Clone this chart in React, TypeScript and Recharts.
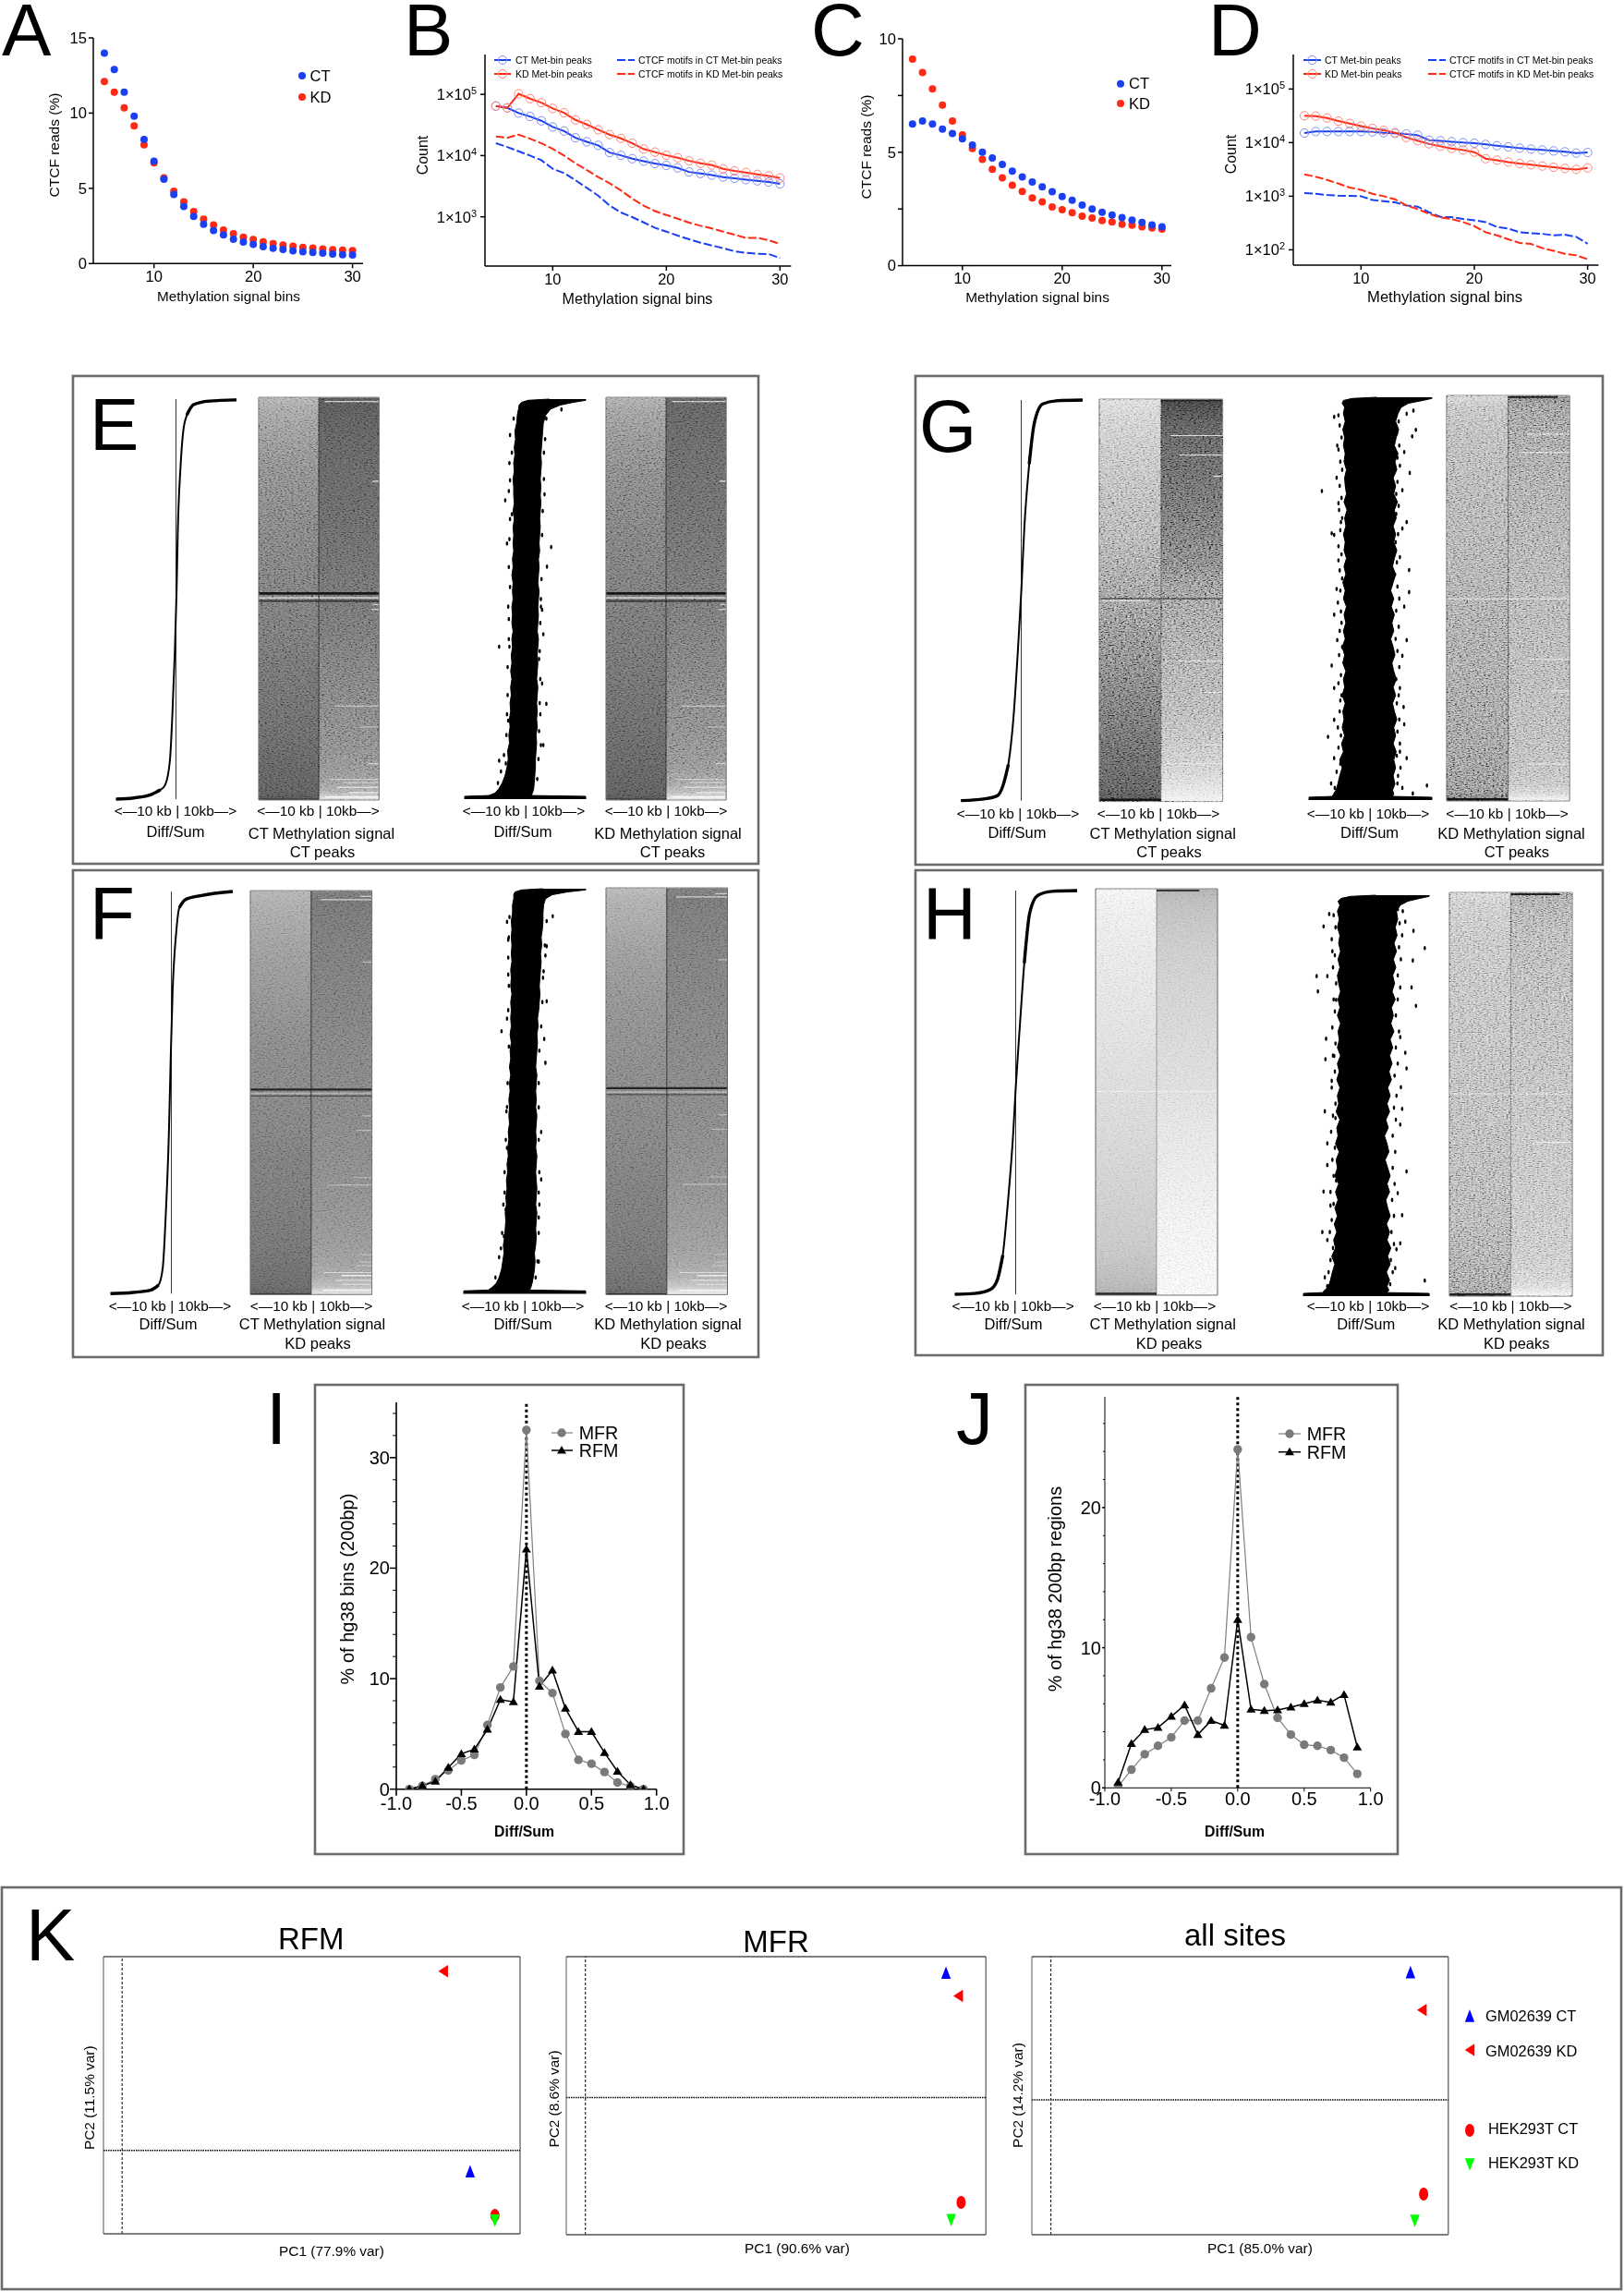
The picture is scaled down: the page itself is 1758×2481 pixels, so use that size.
import * as React from 'react'
import {
  AreaChart,
  Area,
  LineChart,
  Line,
  ScatterChart,
  Scatter,
  XAxis,
  YAxis,
  ReferenceLine,
  ReferenceArea,
} from 'recharts'

// ---------- data ----------
const bins = [5,6,7,8,9,10,11,12,13,14,15,16,17,18,19,20,21,22,23,24,25,26,27,28,29,30]

const aCT = [13.98,12.9,11.4,9.8,8.25,6.8,5.6,4.6,3.8,3.13,2.62,2.2,1.9,1.62,1.43,1.27,1.13,1.02,0.94,0.84,0.78,0.74,0.7,0.63,0.59,0.57]
const aKD = [12.1,11.4,10.35,9.15,7.9,6.7,5.7,4.8,4.1,3.46,2.95,2.56,2.23,1.98,1.76,1.6,1.45,1.32,1.23,1.15,1.07,1.03,0.97,0.93,0.89,0.86]
const cCT = [6.24,6.38,6.24,6.02,5.83,5.59,5.32,5.0,4.75,4.46,4.17,3.91,3.69,3.47,3.26,3.05,2.88,2.67,2.5,2.36,2.23,2.12,2.01,1.91,1.8,1.71]
const cKD = [9.1,8.51,7.79,7.08,6.38,5.77,5.16,4.69,4.25,3.87,3.55,3.27,2.99,2.81,2.59,2.47,2.33,2.18,2.1,1.99,1.93,1.83,1.79,1.71,1.66,1.61]

const bCTPeaks = [64400,60100,49400,43500,37000,29300,25200,19500,16800,14700,11200,10100,8900,8100,7400,6900,6300,5400,5100,4800,4450,4250,4050,3870,3700,3450]
const bKDPeaks = [64400,60100,102000,85000,73000,58700,50000,38300,32200,26400,22000,19100,15900,12800,11400,10100,9200,8200,7480,6980,6080,5610,5300,4930,4660,4300]
const bCTMotifs = [15900,13800,11750,10000,8410,6080,5170,3960,2970,2220,1530,1175,990,810,660,574,493,430,378,341,307,274,258,250,247,212]
const bKDMotifs = [20500,19500,22000,18900,15900,12900,10000,7480,5800,4450,3530,2700,1980,1520,1240,1070,933,803,715,645,574,512,450,455,415,361]

const dCTPeaks = [15070,16100,16100,16100,16100,16100,15900,15280,14880,14490,13740,11120,10820,10400,10000,9750,9240,8770,8320,7880,7570,7280,7000,6730,6380,6550]
const dKDPeaks = [31600,31200,28800,25200,22700,20400,18400,17000,15280,12500,10820,9490,8530,7780,7280,6640,5020,4700,4340,4060,3860,3660,3470,3290,3160,3380]
const dCTMotifs = [1140,1110,1055,1026,1014,1000,853,809,767,673,638,502,412,406,376,356,329,266,249,213,204,199,186,191,174,130]
const dKDMotifs = [2560,2300,2020,1720,1450,1320,1110,1000,877,673,574,470,401,376,329,277,213,186,157,134,129,108,96,84,79,67]

const diffBins = [-0.9,-0.8,-0.7,-0.6,-0.5,-0.4,-0.3,-0.2,-0.1,0,0.1,0.2,0.3,0.4,0.5,0.6,0.7,0.8,0.9]
const iMFR = [0,0.3,0.9,1.7,2.6,3.1,5.8,9.2,11.1,32.5,9.8,8.7,5.0,2.65,2.3,1.55,0.6,0.25,0]
const iRFM = [0,0.3,0.7,1.95,3.2,3.6,5.4,8.1,7.9,21.7,9.3,10.75,7.3,5.2,5.2,3.3,1.6,0.4,0]
const jMFR = [0.1,1.3,2.4,3.0,3.6,4.8,4.8,7.1,9.3,24.15,10.75,7.4,5.0,3.8,3.08,3.0,2.7,2.15,1.0]
const jRFM = [0.4,3.15,4.15,4.3,5.1,5.9,3.8,4.8,4.45,12,5.6,5.5,5.55,5.75,6.0,6.25,6.1,6.65,2.9]

// sorted diff/sum curves: x = diff/sum, r = rank in %
const eCurveX = [-0.99,-0.7,-0.4,-0.26,-0.18,-0.1,-0.06,-0.02,0.01,0.03,0.075,0.12,0.18,0.29,0.55,1]
const eCurveR = [0,0.3,1.2,2.3,3.5,9.7,21,36.5,52,67,83,92,96,98.6,99.5,99.8]
const fCurveX = [-0.99,-0.62,-0.33,-0.21,-0.14,-0.09,-0.04,-0.01,0.02,0.08,0.13,0.23,0.49,1]
const fCurveR = [0,0.3,0.9,2.1,6.4,20,40,59,75,90,96,98,99,100]
const gCurveX = [-0.98,-0.61,-0.39,-0.3,-0.21,-0.13,-0.06,0,0.05,0.13,0.21,0.35,0.57,1]
const gCurveR = [0,0.4,1.2,3.6,9,20,36,52,68,84,94,99,99.8,100]
const hCurveX = [-0.99,-0.67,-0.41,-0.3,-0.21,-0.12,-0.04,0,0.07,0.14,0.23,0.36,0.59,1]
const hCurveR = [0,0.2,1.2,3.5,9.7,24,40,51,67,82,94.6,98.8,99.8,100]

const ribbonRanks = [0,0.7,0.9,1.5,2.5,4,6,8,10,12,14,16,18,20,22,24,26,28,30,32,34,36,38,40,42,44,46,48,50,52,54,56,58,60,62,64,66,68,70,72,74,76,78,80,82,84,86,88,90,92,94,96,97.5,98.5,99.2,99.7,100]
const eLow = [-1,-1,-.6,-.5,-.44,-.38,-.33,-.3,-.28,-.29,-.26,-.27,-.25,-.26,-.24,-.25,-.23,-.24,-.22,-.24,-.22,-.23,-.21,-.22,-.2,-.22,-.21,-.22,-.2,-.21,-.2,-.22,-.2,-.21,-.19,-.2,-.19,-.2,-.18,-.2,-.18,-.19,-.19,-.2,-.18,-.19,-.17,-.18,-.16,-.17,-.14,-.13,-.11,-.1,-.06,.05,.4]
const eHigh = [1,1,.1,.12,.14,.15,.16,.17,.17,.18,.19,.18,.2,.19,.2,.19,.2,.21,.19,.2,.21,.2,.21,.22,.2,.21,.22,.21,.22,.23,.21,.22,.23,.22,.24,.23,.24,.25,.24,.25,.26,.25,.26,.25,.26,.27,.26,.27,.28,.29,.3,.34,.42,.58,.8,1,1]
const fLow = [-1,-1,-.6,-.54,-.47,-.42,-.38,-.36,-.34,-.35,-.33,-.32,-.31,-.32,-.3,-.31,-.29,-.3,-.28,-.29,-.27,-.28,-.26,-.27,-.25,-.26,-.25,-.26,-.24,-.25,-.23,-.25,-.23,-.24,-.22,-.24,-.22,-.23,-.22,-.23,-.21,-.23,-.22,-.23,-.21,-.22,-.21,-.22,-.21,-.22,-.2,-.2,-.18,-.18,-.16,-.05,.3]
const fHigh = [1,1,.08,.1,.12,.14,.16,.17,.16,.18,.19,.18,.19,.2,.18,.19,.2,.19,.18,.19,.2,.18,.19,.18,.19,.2,.18,.19,.18,.19,.2,.18,.19,.2,.21,.2,.22,.21,.23,.24,.25,.24,.25,.26,.27,.26,.28,.27,.29,.3,.3,.31,.34,.45,.7,1,1]
const gLow = [-1,-1,-.62,-.6,-.56,-.53,-.5,-.46,-.5,-.44,-.47,-.42,-.46,-.43,-.45,-.41,-.46,-.42,-.44,-.4,-.45,-.42,-.46,-.41,-.44,-.4,-.43,-.39,-.44,-.41,-.45,-.4,-.43,-.39,-.43,-.41,-.44,-.4,-.42,-.38,-.43,-.39,-.41,-.42,-.39,-.43,-.41,-.44,-.42,-.45,-.41,-.44,-.42,-.46,-.44,-.3,.1]
const gHigh = [1,1,.36,.38,.36,.4,.37,.41,.38,.42,.37,.41,.38,.43,.39,.36,.41,.37,.42,.38,.35,.4,.37,.33,.38,.35,.39,.34,.38,.33,.37,.41,.36,.39,.43,.38,.41,.37,.42,.39,.44,.38,.41,.37,.43,.4,.45,.39,.42,.46,.41,.45,.5,.62,.85,1,1]
const hLow = [-1,-1,-.7,-.66,-.6,-.57,-.54,-.5,-.55,-.49,-.52,-.47,-.51,-.46,-.5,-.45,-.49,-.44,-.5,-.46,-.48,-.43,-.49,-.45,-.47,-.42,-.48,-.44,-.46,-.42,-.47,-.43,-.46,-.41,-.46,-.43,-.45,-.41,-.46,-.42,-.45,-.41,-.44,-.46,-.42,-.45,-.41,-.44,-.42,-.46,-.43,-.46,-.42,-.45,-.4,-.25,.15]
const hHigh = [1,1,.33,.36,.33,.37,.32,.38,.34,.39,.33,.37,.32,.38,.34,.31,.37,.33,.38,.34,.3,.36,.33,.29,.35,.31,.37,.33,.38,.34,.4,.36,.41,.37,.42,.38,.44,.39,.43,.4,.46,.41,.45,.42,.47,.43,.48,.44,.49,.46,.5,.48,.54,.66,.85,1,1]

// stray points outside the ribbons: [diff/sum, rank]
const eStray = [[-.33,74.7],[-.3,63.9],[-.43,38.1],[.43,63],[.36,58.1],[.35,23.8],[.26,13.5],[-.43,9.6],[-.4,6.9],[-.22,86.6],[-.25,79.7],[.32,76.2],[.31,86.6],[.3,41.2],[.26,48.1],[-.28,19.6],[-.3,21.2],[.25,21.2],[-.19,95.1],[.6,97.4],[.35,95.1],[-.28,48.1],[.28,47.3],[-.22,71.2],[-.26,38.1],[.23,35],[.28,28.9],[.3,13.5],[-.32,8.9],
  [-.25,91],[-.26,84],[-.27,77],[-.25,70],[-.26,65],[-.27,58],[-.25,53],[-.27,45],[-.27,40],[-.29,33],[-.29,26],[-.31,16],[-.35,11],[-.45,4],[.33,90],[.31,80],[.29,72],[.28,66],[.27,55],[.26,50],[.25,44],[.24,37],[.25,30],[.24,24],[.23,17],[.22,10],[.2,5]]
const fStray = [[-.38,64.8],[-.29,91.8],[-.27,87.4],[-.27,78.8],[-.29,67.9],[.46,93.2],[.36,85.8],[.36,72.2],[.34,57],[.32,62.9],[-.29,46.1],[-.29,36],[-.33,25],[-.31,20.8],[-.39,11.2],[.27,39.9],[.23,25],[.23,18.8],[.23,7.9],[.34,83.5],[.27,28.2],[-.29,16.9],[-.34,14.2],[.31,79.6],
  [-.25,93],[-.26,88],[-.27,83],[-.26,76],[-.27,70],[-.26,61],[-.28,52],[-.3,45],[-.31,38],[-.33,30],[-.35,22],[-.37,15],[-.42,9],[-.48,4],[.36,92],[.33,86],[.3,78],[.29,72],[.27,66],[.24,60],[.23,52],[.23,46],[.23,38],[.24,30],[.24,22],[.23,15],[.21,8],[.18,4]]
const gStray = [[-.79,76.7],[-.63,66.2],[.74,91.9],[.68,90.3],[.64,81.2],[.63,57.1],[-.54,88],[-.52,95.5],[-.59,95.1],[-.55,80],[-.59,65.8],[-.52,59.5],[-.55,52.4],[-.59,46],[-.54,39.7],[-.63,33.4],[-.59,27.8],[-.59,19.9],[-.69,15.7],[-.59,10.4],[-.64,4.1],[.92,3.6],[.69,1.6],[.55,18.8],[.59,10.4],[.59,39.7],[.55,48],[.63,51.6],[.52,67.4],[.59,69],[.55,86.4],[.52,76.9],[.48,60.3],[.52,35.8],[.48,27.8],[.54,23.1],[.44,4.1],[.7,96.7],[.59,95.9],[-.52,73.7],[-.48,69],[-.49,24.7],[.48,12],[-.44,6.5],[-.48,46.8],
  [-.5,93],[-.47,90],[-.52,87],[-.49,84],[-.46,82],[-.5,78],[-.47,75],[-.51,72],[-.46,70],[-.49,67],[-.52,63],[-.47,61],[-.5,57],[-.46,55],[-.49,52],[-.53,49],[-.47,44],[-.5,42],[-.46,38],[-.51,36],[-.48,31],[-.52,29],[-.47,26],[-.5,22],[-.53,18],[-.48,16],[-.52,13],[-.49,9],[-.55,7],[-.5,5],[-.58,3],
  [.46,94],[.43,91],[.47,88],[.44,85],[.48,83],[.44,79],[.42,76],[.46,73],[.42,71],[.45,66],[.41,64],[.43,59],[.4,56],[.44,53],[.47,50],[.42,47],[.46,43],[.41,40],[.44,37],[.47,33],[.42,30],[.46,26],[.43,24],[.47,20],[.44,17],[.48,14],[.43,11],[.49,8],[.45,6],[.52,3]]
const hStray = [[-.79,79.8],[-.77,76],[-.68,92.2],[-.59,95.3],[-.54,86],[-.62,79.8],[-.64,64.2],[-.65,59.1],[-.66,46.1],[-.55,53.7],[-.62,38.1],[-.62,32.7],[-.68,26.1],[-.57,22.6],[-.7,16],[-.62,14],[-.66,4.7],[.93,86.8],[.74,83.7],[.72,77],[.79,72.4],[.75,91.1],[.64,56.8],[.62,60.7],[.57,46.7],[.64,31.1],[.57,20.2],[.54,13.2],[.93,3.9],[.62,93.4],[.5,96.5],[.54,64.6],[.55,52.1],[.54,42.8],[.5,25.7],[-.51,9.3],[-.48,73.9],[-.51,59.9],[-.49,44.4],[-.48,28.8],[.46,7],[-.37,98.8],[-.44,6.2],[.48,11.7],
  [-.52,95],[-.49,92],[-.55,89],[-.5,85],[-.53,82],[-.48,78],[-.52,74],[-.5,71],[-.54,67],[-.49,63],[-.53,60],[-.5,56],[-.55,52],[-.49,48],[-.53,45],[-.56,41],[-.5,37],[-.54,34],[-.52,30],[-.57,26],[-.52,23],[-.55,19],[-.58,16],[-.53,12],[-.57,9],[-.6,6],[-.55,4],[-.62,2.5],
  [.58,96],[.53,93],[.57,90],[.52,87],[.55,84],[.5,80],[.54,77],[.5,74],[.47,70],[.52,66],[.47,62],[.5,58],[.45,55],[.48,50],[.44,47],[.47,44],[.42,40],[.46,36],[.42,32],[.45,28],[.41,24],[.44,20],[.4,16],[.44,13],[.39,9],[.42,6],[.38,3]]

// heatmap grey levels per band, top band first
const heatEdges = [100,98.5,96,92,86,78,70,62,54,46,38,30,22,15,10,6,3,1,0]
const e1Left = [170,160,152,143,132,126,122,119,116,113,108,104,100,96,92,90,88,80]
const e1Right = [85,85,88,92,95,97,100,104,108,112,118,123,127,132,138,148,170,215]
const e2Left = [165,155,148,138,128,123,119,116,113,110,107,103,100,96,93,90,88,82]
const e2Right = [92,92,94,97,100,102,105,108,112,116,120,125,130,136,142,155,180,225]
const f1Left = [175,170,165,158,150,143,135,130,128,125,120,118,115,112,108,105,102,95]
const f1Right = [118,112,115,118,120,122,125,127,128,130,133,137,142,148,155,165,185,220]
const f2Left = [180,172,168,160,150,143,137,133,130,128,124,120,118,115,112,108,105,98]
const f2Right = [120,115,118,120,122,124,127,128,130,132,135,140,146,152,160,172,195,230]
const g1Left = [212,205,198,190,182,172,165,150,138,125,118,108,100,92,88,85,80,75]
const g1Right = [60,70,80,88,92,100,108,118,140,150,158,165,175,188,200,215,228,238]
const g2Left = [200,185,178,172,168,164,162,160,156,152,150,146,142,138,134,130,125,110]
const g2Right = [120,135,142,148,152,156,160,162,164,166,168,170,172,174,178,184,205,235]
const h1Left = [253,250,247,244,241,238,235,232,229,226,222,218,214,210,204,198,192,184]
const h1Right = [190,198,204,210,216,220,224,228,232,238,242,246,250,252,253,254,254,255]
const h2Left = [205,195,190,186,184,182,180,178,176,174,171,168,165,160,156,152,148,138]
const h2Right = [150,158,165,170,172,174,176,178,180,182,184,186,188,190,194,200,215,238]

// single rows in the heatmaps: [rank, from, to, grey, thickness], x runs 0-20 (10 = peak centre)
const eStripes = [[98.8,11,20,200,.3],[79,18.9,20,215,.3],[51,0,20,20,.6],[50,0,20,195,.4],[49.2,0,20,45,.4],[48.4,19,20,200,.25],[47.2,18.7,20,210,.25],[23.2,12.7,20,205,.25],[18,16.9,20,185,.25],[8.9,18.2,20,215,.25],[5,11.8,20,200,.3],[4.2,14,20,205,.3],[3,13,20,215,.3],[1.7,15,20,235,.3],[0.6,11,20,250,.3],[0,0,10,40,.35]]
const fStripes = [[97.6,11.6,20,205,.3],[98.4,18,20,200,.3],[82.2,18.5,20,200,.25],[50.5,0,20,35,.5],[49.6,0,20,170,.4],[49,0,20,70,.3],[44.1,18.5,20,190,.25],[40.5,17.5,20,185,.25],[28.8,17,20,180,.25],[27,12.6,20,195,.25],[9.8,18,20,190,.25],[7.9,18,20,190,.25],[7,17.5,20,195,.25],[5.3,12,20,215,.25],[4.5,15,20,235,.35],[3.4,14,20,220,.25],[2.4,15,20,225,.25],[0.9,12,20,245,.35],[0,0,10,35,.3]]
const g1Stripes = [[99.5,10,20,25,.5],[90.8,11.5,20,210,.25],[86,13,20,215,.25],[80.7,18.5,20,220,.25],[50.3,0,20,30,.25],[49.8,0,8,225,.25],[34.8,13,20,215,.25],[27,17,20,220,.25],[14,17,20,220,.25],[9.3,11,20,220,.25],[0,0,10,15,.7]]
const g2Stripes = [[99.4,10,18,25,.5],[90.3,13,20,225,.25],[85.8,12,20,230,.25],[49.7,0,20,225,.25],[34.8,13,20,225,.25],[27,17,20,225,.25],[9,13,20,230,.25],[0,0,10,15,.7]]
const h1Stripes = [[99.3,10,17,60,.5],[50,0,20,245,.2],[0,0,10,40,.6]]
const h2Stripes = [[99.3,10,18,25,.5],[50,0,20,230,.2],[38,14,20,235,.2],[0,0,10,25,.7]]

// PCA: GM02639 CT, GM02639 KD, HEK293T CT, HEK293T KD
const pcaGroups = ['GM02639 CT','GM02639 KD','HEK293T CT','HEK293T KD']
const rfmPC1 = [4.91,4.53,5.26,5.26]
const rfmPC2 = [-0.51,4.38,-1.59,-1.72]
const mfrPC1 = [4.895,5.06,5.1,4.965]
const mfrPC2 = [2.74,2.23,-2.3,-2.69]
const allPC1 = [4.9,5.056,5.08,4.96]
const allPC2 = [2.92,2.05,-2.155,-2.77]

// ---------- helpers ----------
const BLUE = '#1a40f0'
const RED = '#ff2a14'
const PAD = 70

type Box = { l: number; t: number; r: number; b: number }

const Holder = ({ box, children }: { box: Box; children: any }) => (
  <div style={{ position: 'absolute', left: box.l - PAD, top: box.t - PAD }}>{children}</div>
)
// visible axes take 1px out of the margin, recharts drops an axis of zero size
const size = (box: Box, xAxis = true, yAxis = true) => ({
  width: box.r - box.l + 2 * PAD,
  height: box.b - box.t + 2 * PAD,
  margin: { top: PAD, right: PAD, bottom: xAxis ? PAD - 1 : PAD, left: yAxis ? PAD - 1 : PAD },
})

const T = ({ x, y, s, a = 'middle', w, rot, children }: any) => (
  <text
    x={x}
    y={y}
    fontSize={s}
    textAnchor={a}
    fontWeight={w}
    dominantBaseline="central"
    transform={rot ? `rotate(-90 ${x} ${y})` : undefined}
  >
    {children}
  </text>
)
const Letter = ({ x, y, children }: any) => (
  <text x={x} y={y} fontSize={80}>{children}</text>
)

const Tri = ({ cx, cy, fill, dir }: any) => {
  const w = 5.2
  const h = 6.8
  let pts = `${cx},${cy - h} ${cx + w},${cy + h} ${cx - w},${cy + h}`
  if (dir === 'down') pts = `${cx},${cy + h} ${cx + w},${cy - h} ${cx - w},${cy - h}`
  if (dir === 'left') pts = `${cx - w},${cy} ${cx + w},${cy - h} ${cx + w},${cy + h}`
  return <polygon points={pts} fill={fill} />
}
const PcaMark = ({ cx, cy, group }: any) => {
  if (group === 0) return <Tri cx={cx} cy={cy} fill="#0000ff" />
  if (group === 1) return <Tri cx={cx} cy={cy} fill="#ff0000" dir="left" />
  if (group === 2) return <ellipse cx={cx} cy={cy} rx={5} ry={7} fill="#ff0000" />
  return <Tri cx={cx} cy={cy} fill="#00ff00" dir="down" />
}

// ---------- A / C ----------
function DotPanel({ box, xDomain, yDomain, yTicks, ct, kd }: any) {
  const ctData = bins.map((x, i) => ({ x, y: ct[i] }))
  const kdData = bins.map((x, i) => ({ x, y: kd[i] }))
  return (
    <Holder box={box}>
      <ScatterChart {...size(box)}>
        <XAxis type="number" dataKey="x" domain={xDomain} ticks={[10, 20, 30]} height={1} tickSize={5} tickMargin={3} allowDataOverflow
          stroke="#000" strokeWidth={1.5} tick={{ fontSize: 16.6, fill: '#000' }} />
        <YAxis type="number" dataKey="y" domain={yDomain} ticks={yTicks} width={1} tickSize={5} tickMargin={2} allowDataOverflow interval={0}
          stroke="#000" strokeWidth={1.5} tick={{ fontSize: 16.6, fill: '#000' }}
          tickFormatter={(v: number) => (Number.isInteger(v) ? String(v) : '')} />
        <Scatter data={kdData} isAnimationActive={false} shape={(p: any) => <circle cx={p.cx} cy={p.cy} r={4} fill={RED} />} />
        <Scatter data={ctData} isAnimationActive={false} shape={(p: any) => <circle cx={p.cx} cy={p.cy} r={4} fill={BLUE} />} />
      </ScatterChart>
    </Holder>
  )
}

// ---------- B / D ----------
const LogTick = ({ x, y, payload }: any) => (
  <text x={x} y={y + 6} textAnchor="end" fontSize={16.5} fill="#000">
    1×10<tspan dy={-6} fontSize={11}>{Math.round(Math.log10(payload.value))}</tspan>
  </text>
)
const openDot = (color: string) => (p: any) => (
  <circle key={p.index} cx={p.cx} cy={p.cy} r={4.6} fill="none" stroke={color} strokeWidth={1} />
)

function CountPanel({ box, xDomain, yDomain, yTicks, ctPeaks, kdPeaks, ctMotifs, kdMotifs }: any) {
  const data = bins.map((x, i) => ({ x, ctPeaks: ctPeaks[i], kdPeaks: kdPeaks[i], ctMotifs: ctMotifs[i], kdMotifs: kdMotifs[i] }))
  return (
    <Holder box={box}>
      <LineChart {...size(box)} data={data}>
        <XAxis type="number" dataKey="x" domain={xDomain} ticks={[10, 20, 30]} height={1} tickSize={5} tickMargin={3} allowDataOverflow
          stroke="#000" strokeWidth={1.5} tick={{ fontSize: 16.4, fill: '#000' }} />
        <YAxis type="number" scale="log" domain={yDomain} ticks={yTicks} width={1} tickSize={5} tickMargin={4} allowDataOverflow interval={0}
          stroke="#000" strokeWidth={1.5} tick={<LogTick />} />
        <Line dataKey="ctPeaks" stroke={BLUE} strokeWidth={2} isAnimationActive={false} dot={openDot('#7d8ff0')} />
        <Line dataKey="kdPeaks" stroke={RED} strokeWidth={2} isAnimationActive={false} dot={openDot('#ff8577')} />
        <Line dataKey="ctMotifs" stroke={BLUE} strokeWidth={2} strokeDasharray="9 3" isAnimationActive={false} dot={false} />
        <Line dataKey="kdMotifs" stroke={RED} strokeWidth={2} strokeDasharray="9 3" isAnimationActive={false} dot={false} />
      </LineChart>
    </Holder>
  )
}

// ---------- sorted curve ----------
function CurvePanel({ box, xs, rs }: any) {
  const data = xs.map((x: number, i: number) => ({ x, r: rs[i], end: x < -0.2 || x > 0.12 ? rs[i] : null }))
  return (
    <Holder box={box}>
      <LineChart {...size(box, false, false)} data={data}>
        <XAxis type="number" dataKey="x" domain={[-1, 1]} hide />
        <YAxis type="number" domain={[0, 100]} hide />
        <ReferenceLine x={0} stroke="#333" strokeWidth={1} />
        <Line dataKey="r" type="monotoneX" stroke="#000" strokeWidth={2} dot={false} isAnimationActive={false} />
        <Line dataKey="end" type="monotoneX" stroke="#000" strokeWidth={3.4} dot={false} isAnimationActive={false} />
      </LineChart>
    </Holder>
  )
}

// ---------- ribbon of sorted points ----------
function RibbonPanel({ box, low, high, stray }: any) {
  const data = ribbonRanks.map((rank, i) => ({ rank, band: [low[i], high[i]] }))
  const dots = stray.map((p: number[]) => ({ x: p[0], y: p[1] }))
  return (
    <>
      <Holder box={box}>
        <AreaChart {...size(box, false, false)} layout="vertical" data={data}>
          <XAxis type="number" domain={[-1, 1]} hide />
          <YAxis type="number" dataKey="rank" domain={[0, 100]} hide reversed />
          <Area dataKey="band" type="linear" fill="#000" fillOpacity={1} stroke="#000" strokeWidth={1} isAnimationActive={false} dot={false} />
        </AreaChart>
      </Holder>
      <Holder box={box}>
        <ScatterChart {...size(box, false, false)}>
          <XAxis type="number" dataKey="x" domain={[-1, 1]} hide />
          <YAxis type="number" dataKey="y" domain={[0, 100]} hide />
          <Scatter data={dots} isAnimationActive={false} shape={(p: any) => <ellipse cx={p.cx} cy={p.cy} rx={1.3} ry={2.4} fill="#000" />} />
        </ScatterChart>
      </Holder>
    </>
  )
}

// ---------- heatmap ----------
const grey = (g: number) => `rgb(${g},${g},${g})`
const bandCentre = (i: number) => (100 - (heatEdges[i] + heatEdges[i + 1]) / 2) + '%'
const gradRect = (gid: string, levels: number[]) => (p: any) => (
  <g>
    <defs>
      <linearGradient id={gid} x1="0" y1="0" x2="0" y2="1">
        {levels.map((g, i) => <stop key={i} offset={bandCentre(i)} stopColor={grey(g)} />)}
      </linearGradient>
    </defs>
    <rect x={p.x} y={p.y} width={p.width} height={p.height} fill={`url(#${gid})`} />
  </g>
)

function HeatPanel({ id, box, left, right, stripes, grain, blend = 'overlay', centre = 0.75 }: any) {
  const rows = stripes.map((s: number[]) => ({ y1: s[0], y2: s[0] + s[4], x1: s[1], x2: s[2], g: s[3] }))
  return (
    <>
      <Holder box={box}>
        <LineChart {...size(box, true, false)} data={[{ x: 0, y: 0 }, { x: 20, y: 100 }]}>
          <XAxis type="number" dataKey="x" domain={[0, 20]} ticks={[0, 10, 20]} height={1} tickSize={7} tick={false} stroke="#777" />
          <YAxis type="number" dataKey="y" domain={[0, 100]} hide />
          <ReferenceArea x1={0} x2={10} y1={0} y2={100} shape={gradRect('hl' + id, left)} ifOverflow="visible" />
          <ReferenceArea x1={10} x2={20} y1={0} y2={100} shape={gradRect('hr' + id, right)} ifOverflow="visible" />
          {rows.map((s: any, i: number) => (
            <ReferenceArea key={'s' + i} x1={s.x1} x2={s.x2} y1={s.y1} y2={s.y2} fill={grey(s.g)} fillOpacity={1} stroke="none" ifOverflow="visible" />
          ))}
          <ReferenceLine x={10} stroke="#222" strokeOpacity={centre} strokeWidth={1.2} />
          <ReferenceLine x={0} stroke="#666" strokeWidth={1} ifOverflow="visible" />
          <ReferenceLine x={20} stroke="#666" strokeWidth={1} ifOverflow="visible" />
          <ReferenceLine y={100} stroke="#888" strokeWidth={1} ifOverflow="visible" />
        </LineChart>
      </Holder>
      <svg
        width={box.r - box.l}
        height={box.b - box.t}
        style={{ position: 'absolute', left: box.l, top: box.t, mixBlendMode: blend, opacity: grain, pointerEvents: 'none' }}
      >
        <filter id={'grain' + id} x="0" y="0" width="100%" height="100%">
          <feTurbulence type="fractalNoise" baseFrequency="0.42 0.8" numOctaves={2} seed={id.charCodeAt(0) + id.charCodeAt(1)} />
          <feColorMatrix type="matrix" values="1.3 1.3 1.3 0 -1.45 1.3 1.3 1.3 0 -1.45 1.3 1.3 1.3 0 -1.45 0 0 0 0 1" />
        </filter>
        <rect width="100%" height="100%" filter={`url(#grain${id})`} />
      </svg>
    </>
  )
}

// ---------- I / J ----------
const GreyDot = (p: any) => <circle key={p.index} cx={p.cx} cy={p.cy} r={4.7} fill="#7a7a7a" />
const BlackTri = (p: any) => (
  <polygon key={p.index} points={`${p.cx},${p.cy - 5} ${p.cx + 5},${p.cy + 3.5} ${p.cx - 5},${p.cy + 3.5}`} fill="#000" />
)
const MinorTick = ({ x, y, payload, labelGap, minorLen, majorLen }: any) => {
  const isMajor = payload.value % 10 === 0
  return (
    <g>
      <line x1={x} x2={x - (isMajor ? majorLen : minorLen)} y1={y} y2={y} stroke="#000" strokeWidth={isMajor ? 1.5 : 1} />
      {isMajor && (
        <text x={x - labelGap} y={y + 7} textAnchor="end" fontSize={20} fill="#000">{payload.value}</text>
      )}
    </g>
  )
}

function DiffPanel({ box, yMax, yTicks, mfr, rfm, axisW, labelGap, minorLen, majorLen, xTickSize }: any) {
  const data = diffBins.map((x, i) => ({ x, mfr: mfr[i], rfm: rfm[i] }))
  return (
    <Holder box={box}>
      <LineChart {...size(box)} data={data}>
        <XAxis type="number" dataKey="x" domain={[-1, 1]} ticks={[-1, -0.5, 0, 0.5, 1]} height={1} tickSize={xTickSize} tickMargin={1}
          stroke="#000" strokeWidth={axisW} tick={{ fontSize: 20, fill: '#000' }} tickFormatter={(v: number) => v.toFixed(1)} />
        <YAxis type="number" domain={[0, yMax]} ticks={yTicks} width={1} tickSize={0} tickMargin={0} tickLine={false} interval={0} allowDataOverflow
          stroke="#000" strokeWidth={axisW} tick={<MinorTick labelGap={labelGap} minorLen={minorLen} majorLen={majorLen} />} />
        <ReferenceLine x={0} stroke="#000" strokeWidth={3} strokeDasharray="3 3" />
        <Line dataKey="mfr" stroke="#7f7f7f" strokeWidth={1.2} dot={GreyDot} isAnimationActive={false} />
        <Line dataKey="rfm" stroke="#000" strokeWidth={1.5} dot={BlackTri} isAnimationActive={false} />
      </LineChart>
    </Holder>
  )
}

// ---------- K ----------
function PcaPanel({ box, xDomain, yDomain, xTicks, yTicks, pc1, pc2 }: any) {
  return (
    <Holder box={box}>
      <ScatterChart {...size(box)}>
        <XAxis type="number" dataKey="x" domain={xDomain} ticks={xTicks} height={1} tickSize={3} tick={false} stroke="#555" strokeWidth={1.5} allowDataOverflow />
        <YAxis type="number" dataKey="y" domain={yDomain} ticks={yTicks} width={1} tickSize={3} tick={false} stroke="#555" strokeWidth={1} allowDataOverflow />
        <ReferenceLine x={xDomain[1]} stroke="#555" strokeWidth={1.2} ifOverflow="visible" />
        <ReferenceLine y={yDomain[1]} stroke="#555" strokeWidth={1.5} ifOverflow="visible" />
        <ReferenceLine x={0} stroke="#000" strokeDasharray="3 2" />
        <ReferenceLine y={0} stroke="#000" strokeWidth={1.5} strokeDasharray="1.5 1" />
        {pcaGroups.map((name, g) => (
          <Scatter key={name} name={name} data={[{ x: pc1[g], y: pc2[g] }]} isAnimationActive={false}
            shape={(p: any) => <PcaMark cx={p.cx} cy={p.cy} group={g} />} />
        ))}
      </ScatterChart>
    </Holder>
  )
}

// ---------- panel text ----------
const tickText = '<—10 kb | 10kb—>'
function HeatLabels({ y, cols, peaks }: any) {
  return (
    <g>
      {cols.sTick.map((x: number, i: number) => <T key={i} x={x} y={y.tick} s={15.4}>{tickText}</T>)}
      {cols.diff.map((x: number, i: number) => <T key={i} x={x} y={y.diff} s={16.5}>Diff/Sum</T>)}
      <T x={cols.meth[0]} y={y.meth} s={16.5}>CT Methylation signal</T>
      <T x={cols.meth[1]} y={y.meth} s={16.5}>KD Methylation signal</T>
      <T x={cols.peaks[0]} y={y.peaks} s={16.5}>{peaks}</T>
      <T x={cols.peaks[1]} y={y.peaks} s={16.5}>{peaks}</T>
    </g>
  )
}

const LegendRow = ({ y, lineX, textX, color, label, open }: any) => (
  <g>
    <line x1={lineX[0]} x2={lineX[1]} y1={y} y2={y} stroke={color} strokeWidth={2} strokeDasharray={open ? undefined : '9 3'} />
    {open && <circle cx={(lineX[0] + lineX[1]) / 2} cy={y} r={4.6} fill="none" stroke={open} />}
    <T x={textX} y={y} s={10.5} a="start">{label}</T>
  </g>
)
function CountLegend({ x1, x2, x3, x4, x5 }: any) {
  return (
    <g>
      <LegendRow y={65} lineX={[x1, x2]} textX={x3} color={BLUE} open="#7d8ff0" label="CT Met-bin peaks" />
      <LegendRow y={80} lineX={[x1, x2]} textX={x3} color={RED} open="#ff8577" label="KD Met-bin peaks" />
      <LegendRow y={65} lineX={[x4, x4 + 19]} textX={x5} color={BLUE} label="CTCF motifs in CT Met-bin peaks" />
      <LegendRow y={80} lineX={[x4, x4 + 19]} textX={x5} color={RED} label="CTCF motifs in KD Met-bin peaks" />
    </g>
  )
}

const evens = (max: number) => Array.from({ length: max / 2 + 1 }, (_, i) => i * 2)

export default function App() {
  return (
    <div style={{ position: 'absolute', left: 0, top: 0, width: 1758, height: 2481, background: '#fff', overflow: 'hidden', fontFamily: '"Liberation Sans", Arial, sans-serif' }}>
      <svg width={1758} height={2481} style={{ position: 'absolute', left: 0, top: 0 }} fill="#000">
        {/* panel frames */}
        <g fill="none" stroke="#6b6b6b" strokeWidth={2.6}>
          <rect x={79} y={407} width={742} height={528} />
          <rect x={79} y={942} width={742} height={527} />
          <rect x={991} y={407} width={744} height={529} />
          <rect x={991} y={942} width={744} height={525} />
          <rect x={341} y={1499} width={399} height={508} />
          <rect x={1110} y={1499} width={403} height={508} />
          <rect x={2} y={2043} width={1753} height={435} />
        </g>

        <Letter x={2} y={60}>A</Letter>
        <Letter x={437} y={60}>B</Letter>
        <Letter x={878} y={60}>C</Letter>
        <Letter x={1308} y={60}>D</Letter>
        <Letter x={97} y={487}>E</Letter>
        <Letter x={97} y={1016}>F</Letter>
        <Letter x={995} y={489}>G</Letter>
        <Letter x={999} y={1016}>H</Letter>
        <Letter x={288} y={1563}>I</Letter>
        <Letter x={1035} y={1563}>J</Letter>
        <Letter x={28} y={2122}>K</Letter>

        {/* A-D text */}
        <T x={58} y={157} s={15.5} rot>CTCF reads (%)</T>
        <T x={247.5} y={320} s={15.3}>Methylation signal bins</T>
        <circle cx={327} cy={82} r={4} fill={BLUE} />
        <circle cx={327} cy={105} r={4} fill={RED} />
        <T x={335.5} y={82} s={16.6} a="start">CT</T>
        <T x={335.5} y={105} s={16.6} a="start">KD</T>

        <T x={457} y={168} s={15.9} rot>Count</T>
        <T x={690} y={322.7} s={16.1}>Methylation signal bins</T>
        <CountLegend x1={535} x2={553} x3={558} x4={668} x5={691} />

        <T x={937.7} y={159} s={15.5} rot>CTCF reads (%)</T>
        <T x={1123} y={321.7} s={15.4}>Methylation signal bins</T>
        <circle cx={1213} cy={90.7} r={4} fill={BLUE} />
        <circle cx={1213} cy={112} r={4} fill={RED} />
        <T x={1222} y={90.7} s={16.6} a="start">CT</T>
        <T x={1222} y={112} s={16.6} a="start">KD</T>

        <T x={1332} y={167} s={15.9} rot>Count</T>
        <T x={1564} y={321.7} s={16.6}>Methylation signal bins</T>
        <CountLegend x1={1411} x2={1430} x3={1434} x4={1546} x5={1569} />

        {/* E-H text */}
        <HeatLabels y={{ tick: 877, diff: 900, meth: 902, peaks: 922 }} peaks="CT peaks"
          cols={{ sTick: [190, 344.5, 567, 721], diff: [190, 566], meth: [348, 723], peaks: [349, 728] }} />
        <HeatLabels y={{ tick: 1413, diff: 1433, meth: 1433, peaks: 1454 }} peaks="KD peaks"
          cols={{ sTick: [184, 337, 566, 721], diff: [182, 566], meth: [338, 723], peaks: [344, 729] }} />
        <HeatLabels y={{ tick: 880, diff: 900.7, meth: 901.7, peaks: 921.7 }} peaks="CT peaks"
          cols={{ sTick: [1102, 1254, 1481, 1631.5], diff: [1101, 1482.6], meth: [1258.7, 1636], peaks: [1265.5, 1641.8] }} />
        <HeatLabels y={{ tick: 1413, diff: 1432.6, meth: 1433, peaks: 1453.5 }} peaks="KD peaks"
          cols={{ sTick: [1096.6, 1250, 1481, 1635.4], diff: [1097, 1478.7], meth: [1258.7, 1636], peaks: [1265.5, 1641.8] }} />

        {/* I, J text */}
        <T x={376} y={1720} s={20} rot>% of hg38 bins (200bp)</T>
        <T x={567.6} y={1982.7} s={15.8} w="bold">Diff/Sum</T>
        <line x1={597} x2={620} y1={1551} y2={1551} stroke="#7f7f7f" strokeWidth={1.2} />
        <circle cx={608} cy={1551} r={4.7} fill="#7a7a7a" />
        <line x1={597} x2={620} y1={1570} y2={1570} stroke="#000" strokeWidth={1.5} />
        <polygon points="608,1565 613,1573.5 603,1573.5" fill="#000" />
        <T x={626.7} y={1551} s={19.7} a="start">MFR</T>
        <T x={626.7} y={1570} s={19.7} a="start">RFM</T>

        <T x={1142} y={1720} s={20} rot>% of hg38 200bp regions</T>
        <T x={1336.6} y={1982.7} s={15.8} w="bold">Diff/Sum</T>
        <line x1={1384} x2={1408} y1={1552} y2={1552} stroke="#7f7f7f" strokeWidth={1.2} />
        <circle cx={1396} cy={1552} r={4.7} fill="#7a7a7a" />
        <line x1={1384} x2={1408} y1={1571.7} y2={1571.7} stroke="#000" strokeWidth={1.5} />
        <polygon points="1396,1566.7 1401,1575.2 1391,1575.2" fill="#000" />
        <T x={1414.7} y={1552} s={19.7} a="start">MFR</T>
        <T x={1414.7} y={1571.7} s={19.7} a="start">RFM</T>

        {/* K text */}
        <T x={336.7} y={2098} s={33}>RFM</T>
        <T x={840} y={2101} s={33}>MFR</T>
        <T x={1337} y={2094} s={33}>all sites</T>
        <T x={359} y={2436} s={15.4}>PC1 (77.9% var)</T>
        <T x={863} y={2433} s={15.4}>PC1 (90.6% var)</T>
        <T x={1364} y={2433} s={15.4}>PC1 (85.0% var)</T>
        <T x={96.5} y={2270.7} s={15.4} rot>PC2 (11.5% var)</T>
        <T x={599} y={2272} s={15.4} rot>PC2 (8.6% var)</T>
        <T x={1101.7} y={2268} s={15.4} rot>PC2 (14.2% var)</T>
        <PcaMark cx={1591} cy={2182} group={0} />
        <PcaMark cx={1591} cy={2219} group={1} />
        <PcaMark cx={1591} cy={2306} group={2} />
        <PcaMark cx={1591} cy={2343} group={3} />
        <T x={1608} y={2182} s={16.4} a="start">{pcaGroups[0]}</T>
        <T x={1608} y={2219.7} s={16.4} a="start">{pcaGroups[1]}</T>
        <T x={1611} y={2304} s={16.4} a="start">{pcaGroups[2]}</T>
        <T x={1611} y={2341} s={16.4} a="start">{pcaGroups[3]}</T>
      </svg>

      <DotPanel box={{ l: 101, t: 40.7, r: 393, b: 285 }} xDomain={[3.886, 31.06]} yDomain={[0, 15]} yTicks={[0, 5, 10, 15]} ct={aCT} kd={aKD} />
      <CountPanel box={{ l: 524.7, t: 59, r: 856, b: 288 }} xDomain={[4.04, 30.97]} yDomain={[157, 447000]} yTicks={[1000, 10000, 100000]}
        ctPeaks={bCTPeaks} kdPeaks={bKDPeaks} ctMotifs={bCTMotifs} kdMotifs={bKDMotifs} />
      <DotPanel box={{ l: 977, t: 41.7, r: 1268, b: 287.3 }} xDomain={[4, 30.94]} yDomain={[0, 10]} yTicks={[0, 2.5, 5, 7.5, 10]} ct={cCT} kd={cKD} />
      <CountPanel box={{ l: 1399.6, t: 59.3, r: 1730, b: 287.3 }} xDomain={[4.02, 30.96]} yDomain={[51.8, 440000]} yTicks={[100, 1000, 10000, 100000]}
        ctPeaks={dCTPeaks} kdPeaks={dKDPeaks} ctMotifs={dCTMotifs} kdMotifs={dKDMotifs} />

      {/* E */}
      <CurvePanel box={{ l: 125, t: 432, r: 256, b: 865 }} xs={eCurveX} rs={eCurveR} />
      <HeatPanel id="e1" box={{ l: 279.7, t: 430, r: 410, b: 866 }} left={e1Left} right={e1Right} stripes={eStripes} grain={0.32} />
      <RibbonPanel box={{ l: 503, t: 432, r: 634, b: 865 }} low={eLow} high={eHigh} stray={eStray} />
      <HeatPanel id="e2" box={{ l: 655.5, t: 430, r: 785.6, b: 866 }} left={e2Left} right={e2Right} stripes={eStripes} grain={0.32} />

      {/* F */}
      <CurvePanel box={{ l: 119, t: 964.7, r: 252, b: 1400 }} xs={fCurveX} rs={fCurveR} />
      <HeatPanel id="f1" box={{ l: 271.4, t: 963.7, r: 403, b: 1401 }} left={f1Left} right={f1Right} stripes={fStripes} grain={0.2} />
      <RibbonPanel box={{ l: 502, t: 961.6, r: 634, b: 1400 }} low={fLow} high={fHigh} stray={fStray} />
      <HeatPanel id="f2" box={{ l: 655.5, t: 960.6, r: 787, b: 1401 }} left={f2Left} right={f2Right} stripes={fStripes} grain={0.2} />

      {/* G */}
      <CurvePanel box={{ l: 1039, t: 433.4, r: 1172, b: 867 }} xs={gCurveX} rs={gCurveR} />
      <HeatPanel id="g1" box={{ l: 1190.4, t: 432.4, r: 1324, b: 868 }} left={g1Left} right={g1Right} stripes={g1Stripes} grain={0.6} centre={0.5} />
      <RibbonPanel box={{ l: 1417, t: 430, r: 1550, b: 866 }} low={gLow} high={gHigh} stray={gStray} />
      <HeatPanel id="g2" box={{ l: 1565.6, t: 428, r: 1698.7, b: 867 }} left={g2Left} right={g2Right} stripes={g2Stripes} grain={0.6} centre={0.6} />

      {/* H */}
      <CurvePanel box={{ l: 1033, t: 964, r: 1166, b: 1401 }} xs={hCurveX} rs={hCurveR} />
      <HeatPanel id="h1" box={{ l: 1186, t: 962, r: 1318, b: 1402 }} left={h1Left} right={h1Right} stripes={h1Stripes} grain={0.12} blend="multiply" centre={0.3} />
      <RibbonPanel box={{ l: 1411.4, t: 968.7, r: 1547.5, b: 1402.8 }} low={hLow} high={hHigh} stray={hStray} />
      <HeatPanel id="h2" box={{ l: 1569, t: 966, r: 1702, b: 1403 }} left={h2Left} right={h2Right} stripes={h2Stripes} grain={0.6} centre={0.5} />

      {/* I, J */}
      <DiffPanel box={{ l: 429.3, t: 1518, r: 711, b: 1936.7 }} yMax={35} yTicks={evens(34)} mfr={iMFR} rfm={iRFM}
        axisW={1.6} labelGap={7} minorLen={4} majorLen={7} xTickSize={7} />
      <DiffPanel box={{ l: 1196, t: 1511.7, r: 1483.7, b: 1935 }} yMax={27.9} yTicks={evens(26)} mfr={jMFR} rfm={jRFM}
        axisW={1} labelGap={4} minorLen={2} majorLen={3} xTickSize={4} />

      {/* K */}
      <PcaPanel box={{ l: 112, t: 2117.7, r: 563, b: 2417.7 }} xDomain={[-0.263, 5.615]} yDomain={[-2.04, 4.737]} xTicks={[0, 1, 2, 3, 4, 5]} yTicks={[-2, -1, 0, 1, 2, 3, 4]}
        pc1={rfmPC1} pc2={rfmPC2} />
      <PcaPanel box={{ l: 612.8, t: 2117.7, r: 1067, b: 2418.7 }} xDomain={[-0.26, 5.436]} yDomain={[-3.01, 3.09]} xTicks={[0, 1, 2, 3, 4, 5]} yTicks={[-2, -1, 0, 1, 2]}
        pc1={mfrPC1} pc2={mfrPC2} />
      <PcaPanel box={{ l: 1116.8, t: 2118, r: 1567.6, b: 2419 }} xDomain={[-0.26, 5.416]} yDomain={[-3.085, 3.27]} xTicks={[0, 1, 2, 3, 4, 5]} yTicks={[-3, -2, -1, 0, 1, 2, 3]}
        pc1={allPC1} pc2={allPC2} />
    </div>
  )
}
